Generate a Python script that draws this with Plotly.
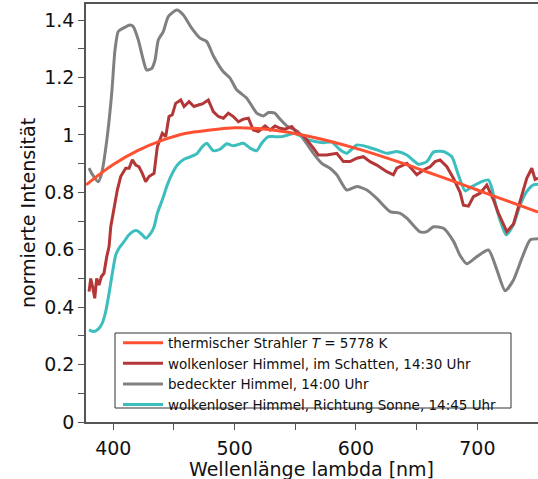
import plotly.graph_objects as go

# ---- data ----
wl_bb = [377.5, 380, 390, 400, 420, 440, 460, 480, 500, 520, 540, 560, 580, 600,
         620, 640, 660, 680, 700, 720, 740, 750]
v_bb = [0.826, 0.834, 0.867, 0.897, 0.945, 0.981, 1.006, 1.017, 1.025, 1.022, 1.012,
        0.996, 0.976, 0.953, 0.927, 0.899, 0.869, 0.839, 0.808, 0.777, 0.747, 0.731]

wl_red = [380, 381.4, 383, 384.7, 386.3, 388.2, 390.1, 392.3, 394.6, 396.5, 397.9,
          400.6, 403.3, 406.1, 410.2, 413, 415.7, 418.5, 421.2, 423.9, 426.7, 429.4,
          433.6, 436.3, 440.4, 443.2, 445.9, 448.6, 451.4, 455.6, 458.3, 462.4, 466.5,
          470.7, 473.4, 478.3, 482.4, 486.6, 490.7, 494.8, 498.9, 503.1, 507.2, 511.3,
          515.4, 519.5, 525.1, 529.2, 533.3, 537.4, 541.6, 547.1, 551.2, 555.3, 559.4,
          564.9, 569, 575.9, 584.2, 589.6, 595.1, 600.7, 606.1, 611.6, 617.1, 625.4,
          630.8, 633.6, 641.9, 650.1, 655.6, 661.1, 665.2, 669.3, 674.9, 680.3, 685.8,
          688.5, 692.7, 696.8, 702.3, 707.8, 713.3, 717.4, 721.5, 724.3, 729.8, 735.3,
          740.8, 744.9, 747.6, 750]
v_red = [0.454, 0.50, 0.47, 0.431, 0.50, 0.477, 0.506, 0.518, 0.576, 0.611, 0.680,
         0.750, 0.808, 0.855, 0.884, 0.884, 0.913, 0.895, 0.889, 0.866, 0.837, 0.855,
         0.866, 0.959, 1.006, 0.994, 1.064, 1.070, 1.110, 1.122, 1.099, 1.116, 1.099,
         1.105, 1.108, 1.122, 1.081, 1.064, 1.058, 1.076, 1.064, 1.046, 1.055, 1.058,
         1.017, 1.012, 1.031, 1.017, 1.031, 1.023, 1.020, 1.029, 1.008, 1.000, 0.983,
         0.954, 0.930, 0.930, 0.936, 0.907, 0.907, 0.919, 0.924, 0.907, 0.895, 0.872,
         0.861, 0.884, 0.901, 0.861, 0.878, 0.889, 0.907, 0.913, 0.889, 0.849, 0.800,
         0.755, 0.752, 0.785, 0.797, 0.825, 0.774, 0.727, 0.692, 0.663, 0.690, 0.770,
         0.850, 0.884, 0.845, 0.850]

wl_gray = [380, 382.2, 387.6, 390.4, 394.6, 398.7, 401.4, 404.1, 408.2, 413.8, 416.5,
           420.6, 424.7, 427.5, 431.7, 434.4, 437.1, 441.2, 445.3, 452.3, 457.7, 464.6,
           471.5, 477, 482.4, 490.7, 496.2, 501.7, 510, 518.2, 523.7, 528, 533, 537.4,
           543, 548.4, 552, 556.6, 564.9, 571.8, 578.6, 584.2, 592.4, 600.7, 608.9,
           617.1, 628.1, 636.4, 641.9, 652.8, 658.4, 663.8, 672.1, 680.3, 685.8, 691.3,
           699.6, 709.2, 716.1, 722.9, 729.8, 736.7, 743.5, 750]
v_gray = [0.884, 0.866, 0.837, 0.866, 0.980, 1.145, 1.296, 1.360, 1.372, 1.383, 1.377,
          1.331, 1.261, 1.226, 1.232, 1.261, 1.331, 1.360, 1.412, 1.435, 1.418, 1.372,
          1.337, 1.325, 1.276, 1.220, 1.198, 1.157, 1.128, 1.076, 1.066, 1.078, 1.076,
          1.055, 1.031, 1.020, 1.012, 0.986, 0.936, 0.901, 0.884, 0.861, 0.808, 0.820,
          0.808, 0.779, 0.733, 0.727, 0.710, 0.662, 0.663, 0.680, 0.675, 0.630, 0.580,
          0.551, 0.576, 0.599, 0.530, 0.457, 0.495, 0.570, 0.634, 0.638]

wl_teal = [380, 384.1, 388.2, 390.9, 393.7, 396.5, 399.2, 402, 404.7, 408.8, 412.9,
           417.1, 420, 423.9, 426.7, 430.8, 433.6, 436.3, 440.4, 444.5, 448.6, 452.8,
           458.3, 463.8, 469.2, 473.4, 477, 482.4, 487.9, 493.5, 498.9, 507.2, 512.7,
           518.2, 522.3, 527.8, 533, 538.8, 544.3, 549.8, 556.6, 566.3, 573.1, 580,
           586.9, 592.4, 600.7, 608.9, 617.1, 625.4, 633.6, 641.9, 651.4, 658.4, 663.8,
           672.1, 679, 684.4, 690, 695.5, 702.3, 709.2, 712, 716.1, 723.7, 729.8, 735.3,
           740.8, 746.3, 750]
v_teal = [0.321, 0.315, 0.326, 0.344, 0.384, 0.448, 0.518, 0.582, 0.605, 0.628, 0.652,
          0.666, 0.666, 0.652, 0.640, 0.657, 0.680, 0.727, 0.774, 0.826, 0.866, 0.895,
          0.915, 0.924, 0.936, 0.959, 0.971, 0.945, 0.950, 0.969, 0.962, 0.971, 0.954,
          0.945, 0.971, 0.994, 0.994, 0.994, 1.000, 1.006, 0.990, 0.977, 0.973, 0.975,
          0.948, 0.936, 0.965, 0.959, 0.948, 0.936, 0.942, 0.930, 0.898, 0.907, 0.940,
          0.942, 0.924, 0.860, 0.805, 0.820, 0.835, 0.843, 0.814, 0.739, 0.652, 0.688,
          0.756, 0.803, 0.826, 0.828]

assert len(wl_red) == len(v_red)
assert len(wl_gray) == len(v_gray)
assert len(wl_teal) == len(v_teal)
assert len(wl_bb) == len(v_bb)

names = ["thermischer Strahler <i>T</i> = 5778 K",
         "wolkenloser Himmel, im Schatten, 14:30 Uhr",
         "bedeckter Himmel, 14:00 Uhr",
         "wolkenloser Himmel, Richtung Sonne, 14:45 Uhr"]

y_tickvals = [0, 0.2, 0.4, 0.6, 0.8, 1.0, 1.2, 1.4]
y_ticktext = ["0", "0.2", "0.4", "0.6", "0.8", "1", "1.2", "1.4"]
x_tickvals = [400, 500, 600, 700]
x_title = "Wellenlänge lambda [nm]"
y_title = "normierte Intensität"

c_bb = "rgb(255,80,50)"
c_red = "rgb(180,55,55)"
c_gray = "rgb(128,128,128)"
c_teal = "rgb(60,190,190)"

fig = go.Figure()
fig.add_trace(go.Scatter(x=wl_gray, y=v_gray, mode="lines", name=names[2],
                         line=dict(color=c_gray, width=3, shape="spline", smoothing=0.6),
                         legendrank=3))
fig.add_trace(go.Scatter(x=wl_teal, y=v_teal, mode="lines", name=names[3],
                         line=dict(color=c_teal, width=3, shape="spline", smoothing=0.6),
                         legendrank=4))
fig.add_trace(go.Scatter(x=wl_red, y=v_red, mode="lines", name=names[1],
                         line=dict(color=c_red, width=3),
                         legendrank=2))
fig.add_trace(go.Scatter(x=wl_bb, y=v_bb, mode="lines", name=names[0],
                         line=dict(color=c_bb, width=3, shape="spline"),
                         legendrank=1))

# pixel -> paper helpers for the plot area
L, W, T, H = 86, 452, 4, 418
def px_x(p):
    return (p - L) / W
def px_y(p):
    return (T + H - p) / H

# legend frame
fig.add_shape(type="rect", xref="paper", yref="paper",
              x0=px_x(115), x1=px_x(511), y0=px_y(408), y1=px_y(333),
              line=dict(color="#333", width=1), fillcolor="white", layer="above")

axis_font = dict(family="DejaVu Sans", size=19, color="#111")

# x-axis title as annotation for exact placement
fig.add_annotation(text=x_title, xref="paper", yref="paper",
                   x=px_x(311), y=px_y(469.5), xanchor="center", yanchor="middle",
                   showarrow=False, font=axis_font)

fig.update_layout(
    width=538, height=479,
    margin=dict(l=L, r=0, t=T, b=57),
    paper_bgcolor="white", plot_bgcolor="white",
    showlegend=True,
    legend=dict(x=px_x(118), y=px_y(327.5), xanchor="left", yanchor="top",
                bgcolor="rgba(0,0,0,0)", borderwidth=0,
                font=dict(family="DejaVu Sans", size=13.5, color="#111"),
                tracegroupgap=0, itemwidth=40),
    font=axis_font,
)
fig.update_xaxes(range=[377.5, 750], showgrid=False, zeroline=False,
                 showline=True, linecolor="#555", linewidth=1.5, mirror=True,
                 ticks="outside", ticklen=6, tickcolor="#555", tickwidth=1,
                 tickvals=x_tickvals, tickfont=axis_font, ticklabelstandoff=2,
                 minor=dict(dtick=50, tick0=350, ticks="outside", ticklen=6,
                            tickcolor="#555", showgrid=False))
fig.update_yaxes(range=[0, 1.456], showgrid=False, zeroline=False,
                 showline=True, linecolor="#555", linewidth=1.5,
                 ticks="outside", ticklen=6, tickcolor="#555", tickwidth=1,
                 tickvals=y_tickvals, ticktext=y_ticktext, tickfont=axis_font,
                 minor=dict(dtick=0.1, tick0=0, ticks="outside", ticklen=6,
                            tickcolor="#555", showgrid=False),
                 title=dict(text=y_title, font=axis_font, standoff=4))

fig.write_html("out.html")
